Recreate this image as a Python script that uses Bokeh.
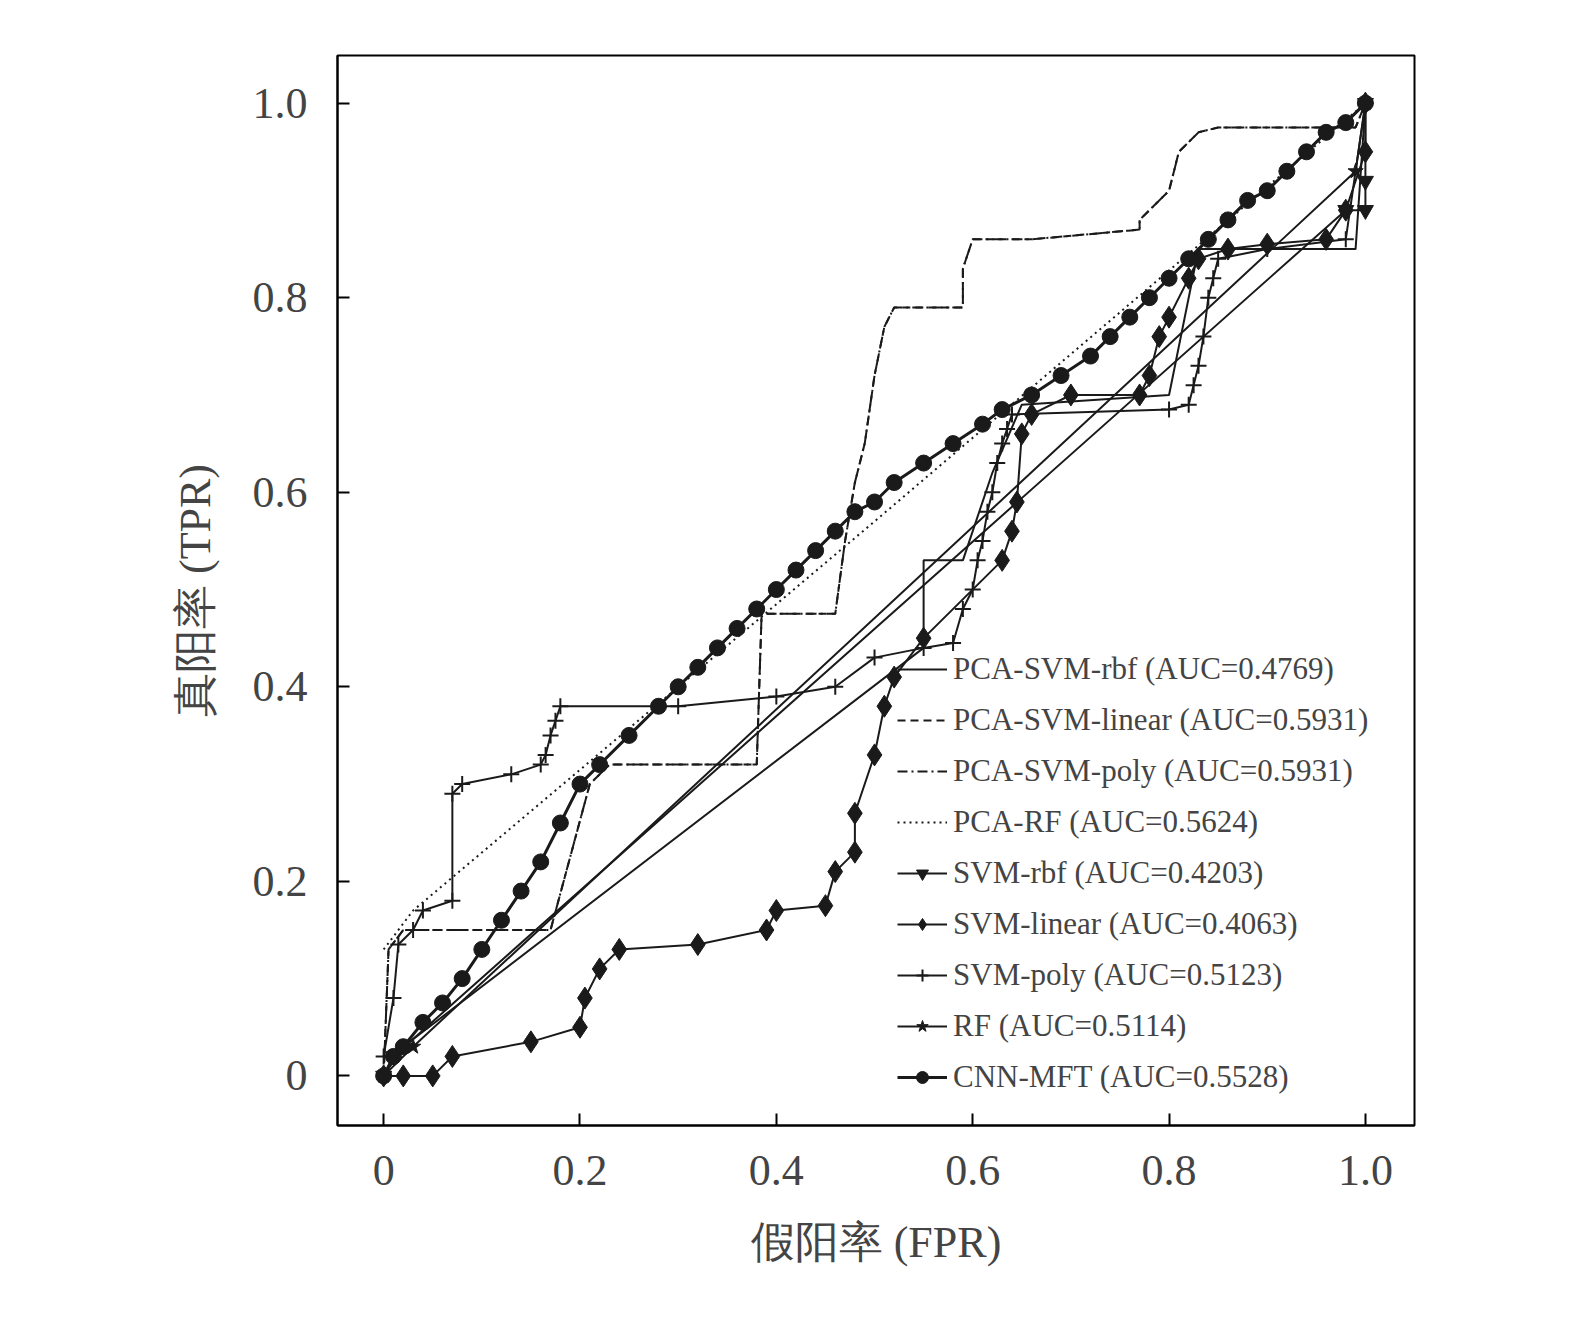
from bokeh.plotting import figure
from bokeh.models import Legend, LegendItem, FixedTicker, Range1d
from bokeh.embed import file_html
from bokeh.resources import INLINE

# ---- data ----
pca_poly_x = [0,0.005,0.02,0.17,0.21,0.23,0.38,0.385,0.46,0.47,0.48,0.49,0.50,0.51,0.52,0.59,0.59,0.60,0.66,0.77,0.77,0.78,0.80,0.81,0.83,0.85,0.99,1.0]
pca_poly_y = [0,0.13,0.15,0.15,0.30,0.32,0.32,0.475,0.475,0.55,0.61,0.65,0.72,0.77,0.79,0.79,0.83,0.86,0.86,0.87,0.88,0.89,0.91,0.95,0.97,0.975,0.975,1.0]
pca_rf_x = [0,0.03,0.5,1.0]
pca_rf_y = [0.13,0.17,0.57,1.0]
pca_rbf_x = [0,0.02,0.55,0.55,0.59,0.62,0.65,0.8,0.83,0.99,1.0]
pca_rbf_y = [0,0.03,0.44,0.53,0.53,0.62,0.69,0.70,0.85,0.85,1.0]
cnn_x = [0,0.01,0.02,0.04,0.06,0.08,0.10,0.12,0.14,0.16,0.18,0.20,0.22,0.25,0.28,0.30,0.32,0.34,0.36,0.38,0.40,0.42,0.44,0.46,0.48,0.50,0.52,0.55,0.58,0.61,0.63,0.66,0.69,0.72,0.74,0.76,0.78,0.80,0.82,0.84,0.86,0.88,0.90,0.92,0.94,0.96,0.98,1.0]
cnn_y = [0,0.02,0.03,0.055,0.075,0.10,0.13,0.16,0.19,0.22,0.26,0.30,0.32,0.35,0.38,0.40,0.42,0.44,0.46,0.48,0.50,0.52,0.54,0.56,0.58,0.59,0.61,0.63,0.65,0.67,0.685,0.70,0.72,0.74,0.76,0.78,0.80,0.82,0.84,0.86,0.88,0.90,0.91,0.93,0.95,0.97,0.98,1.0]
svm_poly_x = [0,0.01,0.015,0.03,0.04,0.07,0.07,0.08,0.13,0.16,0.165,0.17,0.175,0.18,0.30,0.40,0.46,0.50,0.55,0.58,0.59,0.60,0.605,0.61,0.615,0.62,0.625,0.63,0.635,0.64,0.80,0.82,0.825,0.83,0.835,0.84,0.845,0.85,0.90,0.98,1.0]
svm_poly_y = [0.02,0.08,0.135,0.15,0.17,0.18,0.29,0.30,0.31,0.32,0.33,0.35,0.365,0.38,0.38,0.39,0.40,0.43,0.44,0.445,0.48,0.50,0.53,0.55,0.58,0.60,0.63,0.65,0.665,0.68,0.685,0.69,0.71,0.73,0.76,0.80,0.82,0.84,0.85,0.86,1.0]
svm_lin_x = [0,0.02,0.05,0.07,0.15,0.20,0.205,0.22,0.24,0.32,0.39,0.40,0.45,0.46,0.48,0.48,0.50,0.51,0.52,0.55,0.63,0.64,0.645,0.65,0.66,0.70,0.77,0.78,0.79,0.80,0.82,0.83,0.86,0.90,0.96,0.98,1.0,1.0]
svm_lin_y = [0,0,0,0.02,0.035,0.05,0.08,0.11,0.13,0.135,0.15,0.17,0.175,0.21,0.23,0.27,0.33,0.38,0.41,0.45,0.53,0.56,0.59,0.66,0.68,0.70,0.70,0.72,0.76,0.78,0.82,0.84,0.85,0.855,0.86,0.89,0.95,1.0]
svm_rbf_x = [0,0.01,0.98,1.0,1.0,1.0]
svm_rbf_y = [0,0.02,0.89,0.89,0.92,1.0]
rf_x = [0,0.03,0.99,1.0]
rf_y = [0,0.03,0.93,1.0]
x_ticks = [0,0.2,0.4,0.6,0.8,1.0]
tick_labels = {0: "0", 0.2: "0.2", 0.4: "0.4", 0.6: "0.6", 0.8: "0.8", 1.0: "1.0"}

FONT = "Liberation Serif"
p = figure(width=1550, height=1300, output_backend="svg", toolbar_location=None,
           x_range=Range1d(-0.047, 1.05), y_range=Range1d(-0.051, 1.049),
           min_border_left=337, min_border_top=55, min_border_right=136, min_border_bottom=175)
p.grid.visible = False
p.outline_line_color = "black"
p.outline_line_width = 2
for ax in (p.xaxis[0], p.yaxis[0]):
    ax.ticker = FixedTicker(ticks=x_ticks)
    ax.major_label_overrides = tick_labels
    ax.major_label_text_font = FONT
    ax.major_label_text_font_size = "44px"
    ax.axis_label_text_font = FONT
    ax.axis_label_text_font_size = "44px"
    ax.axis_label_text_font_style = "normal"
    ax.axis_line_width = 2
    ax.major_tick_line_width = 2
    ax.major_tick_in = 12
    ax.major_tick_out = 0
    ax.minor_tick_line_color = None
    ax.major_label_standoff = 30
    ax.axis_label_standoff = 30
p.xaxis.axis_label = "假阳率 (FPR)"
p.yaxis.axis_label = "真阳率 (TPR)"

K = "#1a1a1a"
items = []
r = p.line(pca_rbf_x, pca_rbf_y, line_color=K, line_width=2)
items.append(LegendItem(label="PCA-SVM-rbf (AUC=0.4769)", renderers=[r]))
r = p.line(pca_poly_x, pca_poly_y, line_color=K, line_width=2, line_dash="8 5")
items.append(LegendItem(label="PCA-SVM-linear (AUC=0.5931)", renderers=[r]))
r = p.line(pca_poly_x, pca_poly_y, line_color=K, line_width=2, line_dash="10 4 2 4")
items.append(LegendItem(label="PCA-SVM-poly (AUC=0.5931)", renderers=[r]))
r = p.line(pca_rf_x, pca_rf_y, line_color=K, line_width=2, line_dash="2 4")
items.append(LegendItem(label="PCA-RF (AUC=0.5624)", renderers=[r]))
r1 = p.line(svm_rbf_x, svm_rbf_y, line_color=K, line_width=2)
r2 = p.scatter(svm_rbf_x, svm_rbf_y, marker="inverted_triangle", size=16, color=K)
items.append(LegendItem(label="SVM-rbf (AUC=0.4203)", renderers=[r1, r2]))
r1 = p.line(svm_lin_x, svm_lin_y, line_color=K, line_width=2)
r2 = p.scatter(svm_lin_x, svm_lin_y, marker="diamond", size=22, color=K)
items.append(LegendItem(label="SVM-linear (AUC=0.4063)", renderers=[r1, r2]))
r1 = p.line(svm_poly_x, svm_poly_y, line_color=K, line_width=2)
r2 = p.scatter(svm_poly_x, svm_poly_y, marker="cross", size=16, line_color=K, line_width=2)
items.append(LegendItem(label="SVM-poly (AUC=0.5123)", renderers=[r1, r2]))
r1 = p.line(rf_x, rf_y, line_color=K, line_width=2)
r2 = p.scatter(rf_x, rf_y, marker="star", size=16, color=K)
items.append(LegendItem(label="RF (AUC=0.5114)", renderers=[r1, r2]))
r1 = p.line(cnn_x, cnn_y, line_color=K, line_width=3)
r2 = p.scatter(cnn_x, cnn_y, marker="circle", size=16, color=K)
items.append(LegendItem(label="CNN-MFT (AUC=0.5528)", renderers=[r1, r2]))

leg = Legend(items=items, location=(560, 30), label_text_font=FONT, label_text_font_size="31px",
             glyph_width=50, glyph_height=30, spacing=15, label_standoff=6,
             border_line_color=None, background_fill_alpha=0, padding=0, margin=0)
p.add_layout(leg, "center")

open("out.html", "w").write(file_html(p, INLINE))
